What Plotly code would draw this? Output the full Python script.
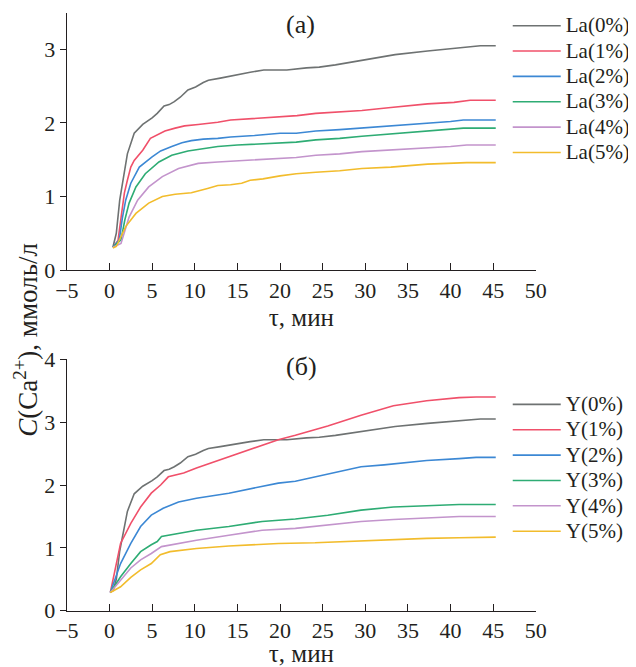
import plotly.graph_objects as go

# (а) La-доп. — время, мин / концентрация Ca2+, ммоль/л
t_la0 = [0.4, 0.8, 1.2, 1.6, 2.1, 2.9, 3.9, 5.0, 5.6, 6.4, 7.0, 7.6, 8.3, 9.2, 10.1, 11.0, 11.6, 13.0,
         14.2, 16.5, 18.1, 20.8, 23.1, 24.6, 26.5, 29.6, 33.5, 37.3, 40.4, 43.5, 45.3]
c_la0 = [0.31, 0.5, 0.95, 1.25, 1.58, 1.86, 1.98, 2.07, 2.13, 2.23, 2.25, 2.29, 2.35, 2.45, 2.49, 2.55,
         2.58, 2.61, 2.64, 2.69, 2.72, 2.72, 2.75, 2.76, 2.79, 2.85, 2.93, 2.98, 3.01, 3.05, 3.05]

t_la1 = [0.4, 1.0, 1.4, 1.75, 2.1, 2.5, 2.9, 3.9, 4.8, 5.6, 6.5, 7.7, 8.8, 10.4, 12.7, 14.2, 17, 20,
         22, 24.2, 27, 29.6, 33, 37.3, 40.4, 42.3, 45.3]
c_la1 = [0.31, 0.40, 0.75, 1.05, 1.22, 1.40, 1.49, 1.63, 1.79, 1.84, 1.89, 1.93, 1.96, 1.98, 2.01, 2.04,
         2.06, 2.08, 2.10, 2.13, 2.15, 2.17, 2.21, 2.26, 2.28, 2.31, 2.31]

t_la2 = [0.4, 1.15, 1.5, 1.9, 2.5, 3.5, 5.0, 6.0, 7.3, 8.5, 9.6, 11, 12.7, 14.2, 17, 20, 21.9, 24.2,
         27, 29.6, 33, 37.3, 40, 41.5, 45.3]
c_la2 = [0.31, 0.41, 0.70, 0.95, 1.18, 1.40, 1.54, 1.62, 1.68, 1.73, 1.76, 1.78, 1.79, 1.81, 1.83, 1.86,
         1.86, 1.89, 1.91, 1.93, 1.96, 1.99, 2.02, 2.04, 2.04]

t_la3 = [0.4, 1.35, 1.8, 2.3, 3.1, 4.2, 5.8, 7.3, 9.2, 11.2, 12.7, 15, 18, 20, 21.9, 24.2, 27, 29.6,
         33, 37.3, 40, 41.5, 45.3]
c_la3 = [0.31, 0.41, 0.68, 0.91, 1.13, 1.31, 1.47, 1.56, 1.62, 1.65, 1.68, 1.70, 1.72, 1.73, 1.74, 1.77,
         1.79, 1.82, 1.85, 1.89, 1.92, 1.93, 1.93]

t_la4 = [0.4, 1.35, 2.3, 3.3, 4.6, 6.2, 8.1, 10.4, 12.7, 16.2, 20, 21.9, 24.2, 27, 29.6, 33, 37.3, 40,
         41.9, 45.3]
c_la4 = [0.31, 0.36, 0.72, 0.95, 1.13, 1.27, 1.38, 1.45, 1.47, 1.49, 1.51, 1.53, 1.56, 1.58, 1.61, 1.63,
         1.66, 1.68, 1.70, 1.70]

t_la5 = [0.4, 0.8, 1.9, 3.1, 4.6, 6.2, 7.7, 9.6, 11.5, 12.7, 14.2, 15.5, 16.5, 18, 20, 21.9, 24.2, 27,
         29.6, 33, 37.3, 40, 41.9, 45.3]
c_la5 = [0.30, 0.32, 0.59, 0.77, 0.91, 1.00, 1.03, 1.05, 1.11, 1.15, 1.16, 1.18, 1.22, 1.24, 1.28, 1.31,
         1.33, 1.35, 1.38, 1.40, 1.44, 1.45, 1.46, 1.46]

# (б) Y-доп.
t_y1 = [0.1, 1.3, 2.5, 3.65, 4.9, 6.0, 6.9, 8.7, 10.2, 14.0, 17.9, 19.8, 21.8, 24.1, 25.6, 29.5, 33.3,
        37.2, 41.0, 43.0, 45.3]
c_y1 = [0.29, 1.07, 1.39, 1.65, 1.87, 2.00, 2.13, 2.19, 2.27, 2.45, 2.64, 2.72, 2.79, 2.88, 2.94, 3.11,
        3.26, 3.34, 3.39, 3.40, 3.40]

t_y2 = [0.1, 1.3, 2.5, 3.65, 4.9, 6.3, 8.1, 10.2, 14.0, 17.9, 19.8, 21.8, 24.1, 25.6, 29.5, 32.2, 37.2,
        41.0, 43, 45.3]
c_y2 = [0.29, 0.75, 1.07, 1.34, 1.52, 1.63, 1.73, 1.79, 1.87, 1.98, 2.03, 2.06, 2.13, 2.18, 2.29, 2.32,
        2.39, 2.42, 2.44, 2.44]

t_y3 = [0.1, 1.3, 2.5, 3.65, 4.9, 5.6, 6.1, 8.1, 10.2, 14.0, 17.9, 21.8, 24.1, 25.6, 29.5, 33.3, 37.2,
        41.0, 45.3]
c_y3 = [0.29, 0.54, 0.75, 0.94, 1.05, 1.10, 1.18, 1.23, 1.28, 1.34, 1.42, 1.46, 1.50, 1.52, 1.60, 1.65,
        1.67, 1.69, 1.69]

t_y4 = [0.1, 1.3, 2.5, 3.65, 4.9, 6.1, 8.1, 10.2, 14.0, 17.9, 21.8, 24.1, 25.6, 29.5, 33.3, 37.2, 41.0,
        45.3]
c_y4 = [0.29, 0.49, 0.68, 0.81, 0.91, 1.02, 1.07, 1.12, 1.20, 1.28, 1.31, 1.34, 1.36, 1.42, 1.45, 1.47,
        1.50, 1.50]

t_y5 = [0.1, 1.3, 2.5, 3.65, 4.9, 5.96, 7.1, 10.2, 14.0, 19.8, 24.1, 29.5, 37.2, 41.0, 45.3]
c_y5 = [0.29, 0.38, 0.53, 0.65, 0.75, 0.89, 0.94, 0.99, 1.03, 1.07, 1.08, 1.11, 1.15, 1.16, 1.17]

names_la = ["La(0%)", "La(1%)", "La(2%)", "La(3%)", "La(4%)", "La(5%)"]
names_y = ["Y(0%)", "Y(1%)", "Y(2%)", "Y(3%)", "Y(4%)", "Y(5%)"]
colors = ["#6e7272", "#f0506a", "#3c88d4", "#2eac74", "#c394cc", "#f2bc2c"]

FONT = "Liberation Serif, Times New Roman, serif"
INK = "#231f20"
# страница имеет отступ body 8px, поэтому фигура на 8px меньше окна
W, H = 628, 659

top = [(t_la0, c_la0), (t_la1, c_la1), (t_la2, c_la2), (t_la3, c_la3), (t_la4, c_la4), (t_la5, c_la5)]
bottom = [(t_la0, c_la0), (t_y1, c_y1), (t_y2, c_y2), (t_y3, c_y3), (t_y4, c_y4), (t_y5, c_y5)]


def label(s):
    # крупный шрифт подписи, но компактный шаг строк легенды
    return "<span style='font-size:21px'>%s</span>" % s


fig = go.Figure()
for (t, c), name, col in zip(top, names_la, colors):
    fig.add_trace(go.Scatter(x=t, y=c, mode="lines", name=label(name), line=dict(color=col, width=1.6),
                             xaxis="x", yaxis="y", legend="legend"))
for (t, c), name, col in zip(bottom, names_y, colors):
    fig.add_trace(go.Scatter(x=t, y=c, mode="lines", name=label(name), line=dict(color=col, width=1.6),
                             xaxis="x2", yaxis="y2", legend="legend2"))

# поля нулевые, оси размещены через domain в долях фигуры
xdom = [59.7 / W, 535.5 / W]
xax = dict(range=[-5, 50], tickvals=list(range(-5, 51, 5)), ticks="inside", ticklen=7,
           tickwidth=1.2, tickcolor=INK, showline=True, linecolor=INK, linewidth=1.3,
           showgrid=False, zeroline=False, automargin=False, domain=xdom,
           tickfont=dict(family=FONT, size=22, color=INK),
           title=dict(text="τ, мин", font=dict(family=FONT, size=25, color=INK), standoff=6))
yax = dict(ticks="outside", ticklen=6, tickwidth=1.2, tickcolor=INK, showline=True, linecolor=INK,
           linewidth=1.3, showgrid=False, zeroline=False, automargin=False,
           tickfont=dict(family=FONT, size=22, color=INK))
leg = dict(xanchor="left", yanchor="top", bgcolor="rgba(0,0,0,0)", itemwidth=48,
           font=dict(family=FONT, size=17.2, color=INK), tracegroupgap=0)

fig.update_layout(
    width=W, height=H,
    margin=dict(l=0, r=0, t=0, b=0),
    paper_bgcolor="white", plot_bgcolor="white",
    xaxis=dict(xax, anchor="y"),
    yaxis=dict(yax, domain=[1 - 262 / H, 1 - 4.7 / H], range=[0, 3.5], tickvals=[0, 1, 2, 3],
               anchor="x"),
    xaxis2=dict(xax, anchor="y2"),
    yaxis2=dict(yax, domain=[1 - 602.7 / H, 1 - 351.3 / H], range=[0, 4], tickvals=[0, 1, 2, 3, 4],
                anchor="x2"),
    legend=dict(leg, x=507 / W, y=1.0),
    legend2=dict(leg, x=507 / W, y=1 - 378.7 / H),
    annotations=[
        dict(text="(а)", x=297 / W, y=1 - 17 / H, xref="paper", yref="paper", showarrow=False,
             xanchor="center", yanchor="middle", font=dict(family=FONT, size=26, color=INK)),
        dict(text="(б)", x=298 / W, y=1 - 359 / H, xref="paper", yref="paper", showarrow=False,
             xanchor="center", yanchor="middle", font=dict(family=FONT, size=26, color=INK)),
        dict(text="<i>C</i>(Ca<sup>2+</sup>), ммоль/л", x=18 / W, y=1 - 332 / H, xref="paper",
             yref="paper", xanchor="center", yanchor="middle", showarrow=False, textangle=-90,
             font=dict(family=FONT, size=27, color=INK)),
    ],
    showlegend=True,
)

fig.write_html("out.html")
